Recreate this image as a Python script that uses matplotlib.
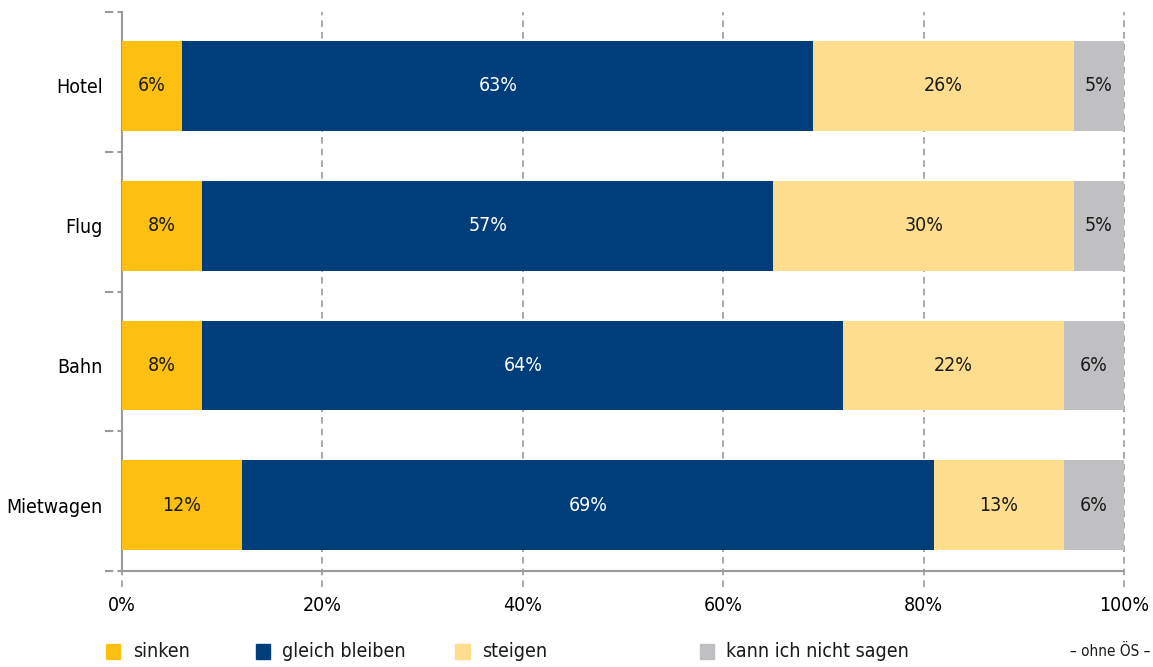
import matplotlib.pyplot as plt
import matplotlib.transforms as mtransforms
import numpy as np

# Survey data: expected price development per travel segment (in %)
categories = ["Hotel", "Flug", "Bahn", "Mietwagen"]
series_names = ["sinken", "gleich bleiben", "steigen", "kann ich nicht sagen"]
sinken = [6, 8, 8, 12]
gleich = [63, 57, 64, 69]
steigen = [26, 30, 22, 13]
kann_nicht = [5, 5, 6, 6]
x_ticks = [0, 20, 40, 60, 80, 100]
note = "– ohne ÖS –"

colors = ["#FDC010", "#003E7B", "#FFDD8F", "#C0C0C2"]
text_colors = ["#1a1a1a", "white", "#1a1a1a", "#1a1a1a"]
grid_color = "#9a9a9a"

plt.rcParams["font.family"] = ["DejaVu Sans"]
plt.rcParams["font.stretch"] = "condensed"

fig = plt.figure(figsize=(11.53, 6.67), dpi=100)
ax = fig.add_axes([0.1058, 0.1439, 0.8691, 0.8381])

y = np.arange(len(categories))
values = [sinken, gleich, steigen, kann_nicht]
left = np.zeros(len(categories))
for vals, col, tcol in zip(values, colors, text_colors):
    vals = np.array(vals, dtype=float)
    ax.barh(y, vals, left=left, height=0.643, color=col, zorder=3)
    for yi, l, v in zip(y, left, vals):
        ax.text(l + v / 2, yi, f"{int(v)}%", ha="center", va="center",
                color=tcol, fontsize=14, zorder=4)
    left += vals

off = 0.029
ax.set_xlim(0, 100)
ax.set_ylim(len(categories) - 0.5 - off, -0.5 - off)

for s in ["top", "right"]:
    ax.spines[s].set_visible(False)
for s in ["left", "bottom"]:
    ax.spines[s].set_color(grid_color)
    ax.spines[s].set_linewidth(1.5)

# dashed vertical grid lines that run past the bottom axis as ticks
trans_x = mtransforms.blended_transform_factory(ax.transData, ax.transAxes)
for xt in x_ticks:
    ax.plot([xt, xt], [-0.028, 1.0], transform=trans_x, color=grid_color,
            lw=1.2, ls=(0, (4, 3)), clip_on=False, zorder=2)

# short dashed ticks between the categories
trans_y = mtransforms.blended_transform_factory(ax.transAxes, ax.transData)
for yb in np.arange(-0.5, len(categories), 1.0) - off:
    ax.plot([-0.017, 0], [yb, yb], transform=trans_y, color=grid_color,
            lw=1.5, ls=(0, (4, 2)), clip_on=False, zorder=2)

ax.tick_params(axis="both", length=0)
ax.set_xticks(x_ticks)
ax.set_xticklabels([f"{t}%" for t in x_ticks], fontsize=14)
ax.tick_params(axis="x", pad=18)
ax.set_yticks(y)
ax.set_yticklabels(categories, fontsize=14)
ax.tick_params(axis="y", pad=14)

# legend along the bottom
legend_x = [0.092, 0.222, 0.395, 0.607]
for lx, name, col in zip(legend_x, series_names, colors):
    fig.patches.append(plt.Rectangle((lx, 0.0125), 0.0125, 0.022, color=col,
                                     transform=fig.transFigure))
    fig.text(lx + 0.023, 0.023, name, fontsize=14, va="center", ha="left",
             color="#1a1a1a")
fig.text(0.998, 0.023, note, fontsize=11, va="center", ha="right",
         color="#1a1a1a")

fig.savefig("out.png", dpi=100)
